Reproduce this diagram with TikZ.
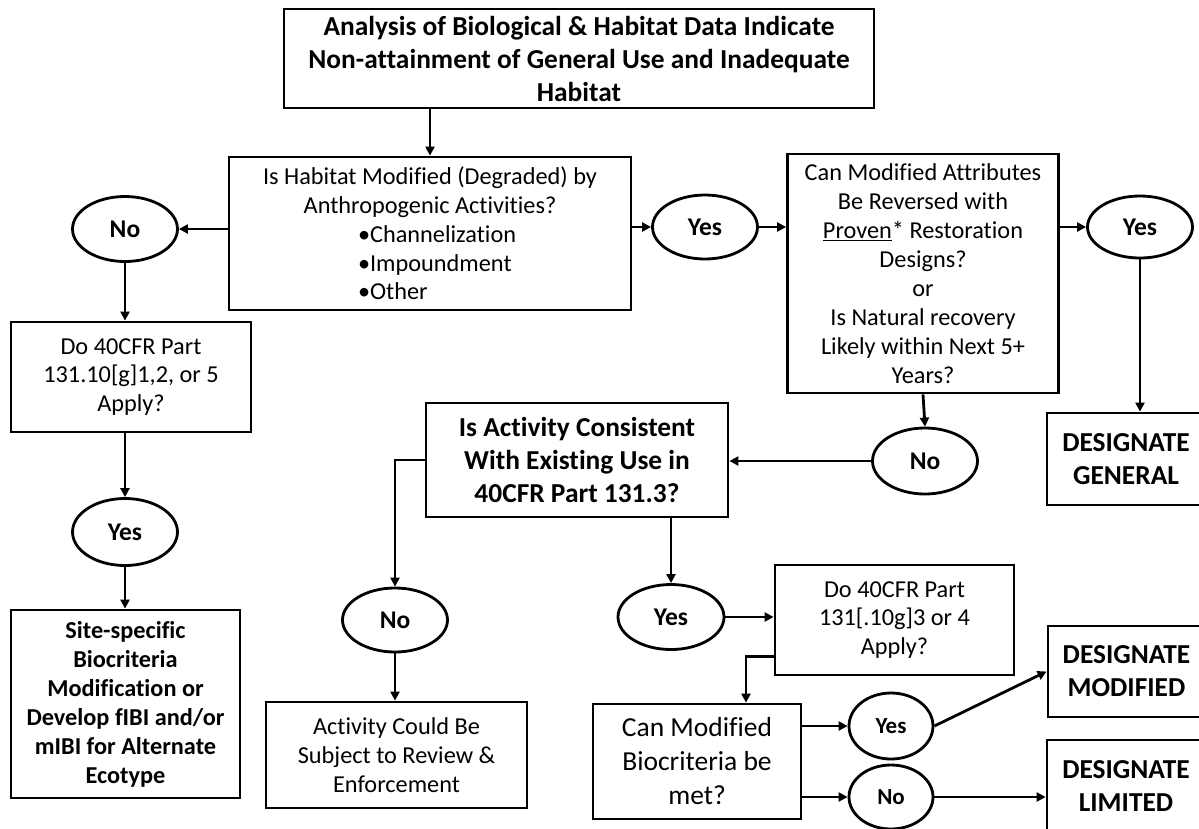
\documentclass[tikz,border=0pt]{standalone}
\usepackage{fontspec}
\setmainfont{Carlito}[RawFeature={-liga;-clig;-dlig;-calt}]
\usetikzlibrary{shapes.geometric,arrows.meta}

\begin{document}
\begin{tikzpicture}[x=1pt,y=-1pt,line width=2.8pt,>={Triangle[length=9pt,width=9pt]},
  plainbox/.style={draw,rectangle,inner sep=0pt,align=center,font=\fontsize{24.3}{28.7}\selectfont},
  boldbox/.style={plainbox,font=\fontsize{27.4}{33}\selectfont\bfseries},
  oval/.style={draw,ellipse,inner sep=0pt,minimum width=105pt,minimum height=65pt,font=\fontsize{25.5}{30}\selectfont\bfseries},
  smalloval/.style={oval,minimum width=84pt,minimum height=66pt,font=\fontsize{23}{27}\selectfont\bfseries}]
\useasboundingbox (0,0) rectangle (1199,828);
\clip (0,0) rectangle (1199,828);
\node[boldbox,minimum width=590pt,minimum height=99pt] (top) at (579,58.5)
  {Analysis of Biological \& Habitat Data Indicate\\Non-attainment of General Use and Inadequate\\Habitat};
\node[plainbox,minimum width=402pt,minimum height=153pt] (habitat) at (430,233.5)
  {Is Habitat Modified (Degraded) by\\Anthropogenic Activities?\\\makebox[144pt][l]{•Channelization}\\\makebox[144pt][l]{•Impoundment}\\\makebox[144pt][l]{•Other}};
\node[oval] (noA) at (125,229) {No};
\node[plainbox,minimum width=240pt,minimum height=110pt] (cfrA) at (131,377) {Do 40CFR Part\\131.10[g]1,2, or 5\\Apply?};
\node[oval,minimum height=67pt] (yesA) at (125,532) {Yes};
\node[boldbox,font=\fontsize{24.3}{29}\selectfont\bfseries,minimum width=229pt,minimum height=188pt] (site) at (125.5,704)
  {Site-specific\\Biocriteria\\Modification or\\Develop fIBI and/or\\mIBI for Alternate\\Ecotype};
\node[oval,minimum height=64pt] (yesB) at (705,227) {Yes};
\node[plainbox,font=\fontsize{24.3}{29}\selectfont,minimum width=271pt,minimum height=239pt] (revers) at (923,273.5)
  {Can Modified Attributes\\Be Reversed with\\\underline{Proven}* Restoration\\Designs?\\or\\Is Natural recovery\\Likely within Next 5+\\Years?};
\node[oval,minimum width=105pt,minimum height=62pt] (yesC) at (1140,227) {Yes};
\node[boldbox,minimum width=158pt,minimum height=92pt] (general) at (1126,459) {DESIGNATE\\GENERAL};
\node[oval,minimum height=66pt] (noB) at (925,461) {No};
\node[boldbox,minimum width=302pt,minimum height=114pt] (consist) at (577,460)
  {Is Activity Consistent\\With Existing Use in\\40CFR Part 131.3?};
\node[oval,minimum height=64pt] (noC) at (395,620) {No};
\node[plainbox,font=\fontsize{24.3}{29}\selectfont,minimum width=261pt,minimum height=106pt] (enforce) at (396.5,755)
  {Activity Could Be\\Subject to Review \&\\Enforcement};
\node[oval,minimum width=106pt] (yesD) at (671,617) {Yes};
\node[plainbox,minimum width=239pt,minimum height=110pt] (cfrB) at (894.5,620) {Do 40CFR Part\\131[.10g]3 or 4\\Apply?};
\node[plainbox,font=\fontsize{27.5}{34}\selectfont,minimum width=208pt,minimum height=115pt] (biocrit) at (697,761.5)
  {Can Modified\\Biocriteria be\\met?};
\node[smalloval] (yesE) at (891,726) {Yes};
\node[smalloval,minimum height=64pt] (noD) at (891,797) {No};
\node[boldbox,minimum width=157pt,minimum height=91pt] (modified) at (1126.5,671.5) {DESIGNATE\\MODIFIED};
\node[boldbox,minimum width=158pt,minimum height=92pt] (limited) at (1126,786) {DESIGNATE\\LIMITED};
\draw[->] (top.south -| habitat.north) -- (habitat.north);
\draw[->] (habitat.west |- noA.east) -- (noA.east);
\draw[->] (noA.south) -- (noA.south |- cfrA.north);
\draw[->] (yesA.north |- cfrA.south) -- (yesA.north);
\draw[->] (yesA.south) -- (yesA.south |- site.north);
\draw[->] (habitat.east |- yesB.west) -- (yesB.west);
\draw[->] (yesB.east) -- (yesB.east -| revers.west);
\draw[->] (revers.east |- yesC.west) -- (yesC.west);
\draw[->] (yesC.south) -- (yesC.south |- general.north);
\draw[->] (revers.south) -- (noB.north);
\draw[->] (noB.west) -- (noB.west -| consist.east);
\draw[->] (consist.west) -| (noC.north);
\draw[->] (noC.south) -- (noC.south |- enforce.north);
\draw[->] (consist.south -| yesD.north) -- (yesD.north);
\draw[->] (yesD.east) -- (yesD.east -| cfrB.west);
\draw[->] ([yshift=20pt]cfrB.south west) -| ([xshift=49pt]biocrit.north);
\draw[->] (yesE.west -| biocrit.east) -- (yesE.west);
\draw[->] (noD.west -| biocrit.east) -- (noD.west);
\draw[->] (yesE.east) -- (modified.west);
\draw[->] (noD.east) -- (noD.east -| limited.west);
\end{tikzpicture}
\end{document}
